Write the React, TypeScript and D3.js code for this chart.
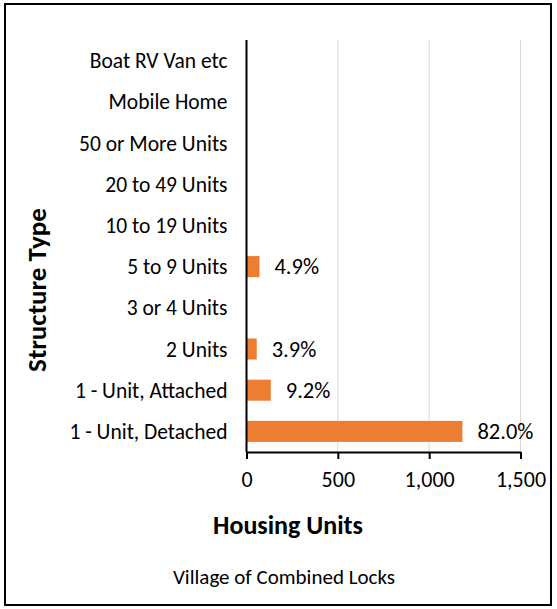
import * as d3 from 'd3';
import { useEffect, useRef } from 'react';

// categories, listed top → bottom as in the chart
const categories = [
  'Boat RV Van etc',
  'Mobile Home',
  '50 or More Units',
  '20 to 49 Units',
  '10 to 19 Units',
  '5 to 9 Units',
  '3 or 4 Units',
  '2 Units',
  '1 - Unit, Attached',
  '1 - Unit, Detached',
];
const units = [0, 0, 0, 0, 0, 71, 0, 56, 133, 1182];
const shareLabels = ['', '', '', '', '', '4.9%', '', '3.9%', '9.2%', '82.0%'];
const xTicks = [0, 500, 1000, 1500];

const FONT = 'Carlito, Lato, "Open Sans", sans-serif';

const App = () => {
  const ref = useRef<SVGSVGElement>(null);
  const width = 557;
  const height = 609;
  const margin = { top: 40, left: 246.5, right: 36.5, bottom: 157 };

  useEffect(() => {
    if (!ref.current) return;
    const svg = d3.select(ref.current);
    svg.selectAll('*').remove();

    const innerW = width - margin.left - margin.right;
    const innerH = height - margin.top - margin.bottom;

    const x = d3.scaleLinear().domain([0, 1500]).range([0, innerW]);
    const y = d3.scaleBand().domain(categories).range([0, innerH]).paddingInner(0.49).paddingOuter(0.245);

    // рамка
    svg.append('rect')
      .attr('x', 5).attr('y', 4).attr('width', 546).attr('height', 601)
      .attr('fill', '#fff').attr('stroke', '#000').attr('stroke-width', 2);

    const g = svg.append('g').attr('transform', `translate(${margin.left},${margin.top})`);

    // сетка
    g.selectAll('.grid')
      .data(xTicks.slice(1))
      .enter()
      .append('line')
      .attr('x1', d => x(d)).attr('x2', d => x(d))
      .attr('y1', 0).attr('y2', innerH)
      .attr('stroke', '#d9d9d9').attr('stroke-width', 1);

    // столбцы
    g.selectAll('.bar')
      .data(categories)
      .enter()
      .append('rect')
      .attr('x', 0)
      .attr('y', d => y(d)!)
      .attr('width', (d, i) => x(units[i]))
      .attr('height', y.bandwidth())
      .attr('fill', '#ED7D31');

    // подписи значений
    g.selectAll('.lbl')
      .data(categories)
      .enter()
      .append('text')
      .attr('x', (d, i) => x(units[i]) + 15)
      .attr('y', d => y(d)! + y.bandwidth() / 2)
      .attr('dy', '0.35em')
      .attr('font-family', FONT)
      .attr('font-size', 22.5)
      .attr('fill', '#000')
      .text((d, i) => shareLabels[i]);

    // ось Y
    g.append('line')
      .attr('x1', 0).attr('x2', 0).attr('y1', 0).attr('y2', innerH)
      .attr('stroke', '#000').attr('stroke-width', 2);
    g.selectAll('.cat')
      .data(categories)
      .enter()
      .append('text')
      .attr('x', -19)
      .attr('y', d => y(d)! + y.bandwidth() / 2)
      .attr('dy', '0.35em')
      .attr('text-anchor', 'end')
      .attr('font-family', FONT)
      .attr('font-size', 21.5)
      .attr('fill', '#000')
      .text(d => d);

    // ось X
    const xAxis = g.append('g')
      .attr('transform', `translate(0,${innerH})`)
      .call(d3.axisBottom(x).tickValues(xTicks).tickSize(7).tickSizeOuter(0).tickPadding(12).tickFormat(d3.format(',')));
    xAxis.select('.domain').attr('stroke', '#000').attr('stroke-width', 2);
    xAxis.selectAll('.tick line').attr('stroke', '#000').attr('stroke-width', 2);
    xAxis.selectAll('.tick text')
      .attr('font-family', FONT)
      .attr('font-size', 22)
      .attr('fill', '#000');

    // заголовки осей
    svg.append('text')
      .attr('x', 288).attr('y', 525)
      .attr('dy', '0.35em')
      .attr('text-anchor', 'middle')
      .attr('font-family', FONT)
      .attr('font-weight', 'bold')
      .attr('font-size', 26)
      .text('Housing Units');

    svg.append('text')
      .attr('transform', 'translate(37,290) rotate(-90)')
      .attr('dy', '0.35em')
      .attr('text-anchor', 'middle')
      .attr('font-family', FONT)
      .attr('font-weight', 'bold')
      .attr('font-size', 27)
      .text('Structure Type');

    svg.append('text')
      .attr('x', 284).attr('y', 577)
      .attr('dy', '0.35em')
      .attr('text-anchor', 'middle')
      .attr('font-family', FONT)
      .attr('font-size', 21)
      .text('Village of Combined Locks');
  }, []);

  return (
    <div style={{ position: 'fixed', left: 0, top: 0 }}>
      <svg ref={ref} width={width} height={height} style={{ display: 'block' }}></svg>
    </div>
  );
};

export default App;
